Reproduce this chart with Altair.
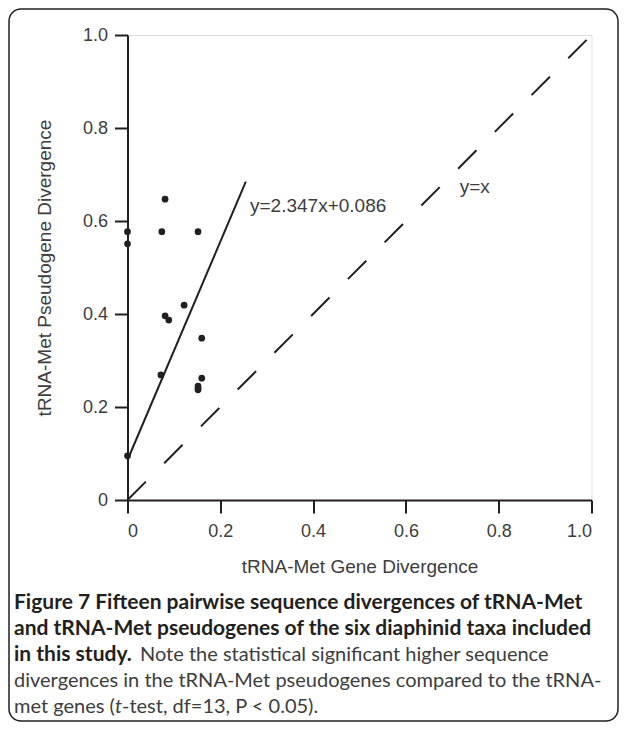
import altair as alt
import pandas as pd

# ---- data ----
gene_div = [0.0, 0.0, 0.0, 0.074, 0.152, 0.081, 0.122, 0.081, 0.089, 0.160, 0.072, 0.160, 0.152, 0.152, 0.152]
pseudo_div = [0.577, 0.551, 0.095, 0.577, 0.577, 0.647, 0.419, 0.396, 0.387, 0.348, 0.269, 0.262, 0.245, 0.237, 0.240]

slope = 2.347
intercept = 0.086
fit_x = [0.0, 0.255]
identity_x = [0.0, 1.0]

tick_values = [0.0, 0.2, 0.4, 0.6, 0.8, 1.0]
x_title = "tRNA-Met Gene Divergence"
y_title = "tRNA-Met Pseudogene Divergence"
fit_label = "y=2.347x+0.086"
identity_label = "y=x"

caption_bold = [
    "Figure 7 Fifteen pairwise sequence divergences of tRNA-Met",
    "and tRNA-Met pseudogenes of the six diaphinid taxa included",
    "in this study.",
]
caption_regular = [
    "Note the statistical significant higher sequence",
    "divergences in the tRNA-Met pseudogenes compared to the tRNA-",
    "met genes (",
    "t",
    "-test, df=13, P < 0.05).",
]

INK = "#231f20"
GREY = "#3d3d3d"
AXFONT = "Liberation Sans"
CAPFONT = "Lato"

pts = pd.DataFrame({"gene": gene_div, "pseudo": pseudo_div})
fit = pd.DataFrame({"gene": fit_x, "pseudo": [slope * v + intercept for v in fit_x]})
ident = pd.DataFrame({"gene": identity_x, "pseudo": identity_x})

xs = alt.Scale(domain=[0, 1], nice=False, zero=False)
ys = alt.Scale(domain=[0, 1], nice=False, zero=False)

lab = "datum.value == 0 ? '0' : format(datum.value, '.1f')"

xaxis = alt.Axis(values=tick_values, labelExpr=lab, tickSize=13, tickWidth=2, domainWidth=2,
                 domainColor=INK, tickColor=INK, labelColor=GREY, labelFont=AXFONT, labelFontSize=18,
                 labelPadding=9, grid=False, title=x_title, titleFont=AXFONT, titleFontSize=19,
                 titleFontWeight="normal", titleColor=GREY, titleX=232, titleY=72,
                 titleBaseline="alphabetic", titleAlign="center")
yaxis = alt.Axis(values=tick_values, labelExpr=lab, tickSize=13, tickWidth=2, domainWidth=2,
                 domainColor=INK, tickColor=INK, labelColor=GREY, labelFont=AXFONT, labelFontSize=18,
                 labelPadding=7, grid=False, title=y_title, titleFont=AXFONT, titleFontSize=19,
                 titleFontWeight="normal", titleColor=GREY, titleX=-77, titleY=232.5, titleAngle=270,
                 titleBaseline="alphabetic", titleAlign="center")

base_x = alt.X("gene:Q", scale=xs, axis=xaxis)
base_y = alt.Y("pseudo:Q", scale=ys, axis=yaxis)

identity_line = alt.Chart(ident).mark_line(color=INK, strokeWidth=2, strokeDash=[26, 26]).encode(
    x=base_x, y=base_y)
fit_line = alt.Chart(fit).mark_line(color=INK, strokeWidth=2).encode(
    x=alt.X("gene:Q", scale=xs), y=alt.Y("pseudo:Q", scale=ys))
points = alt.Chart(pts).mark_circle(size=45, color=INK, opacity=1).encode(
    x=alt.X("gene:Q", scale=xs), y=alt.Y("pseudo:Q", scale=ys))

ann = pd.DataFrame({"gene": [0.264, 0.716], "pseudo": [0.62, 0.66], "label": [fit_label, identity_label]})
labels = alt.Chart(ann).mark_text(align="left", baseline="alphabetic", font=AXFONT, fontSize=19,
                                  color=GREY).encode(
    x=alt.X("gene:Q", scale=xs), y=alt.Y("pseudo:Q", scale=ys), text="label:N")

one = pd.DataFrame({"k": [0]})

frame = alt.Chart(one).mark_rect(fillOpacity=0, stroke=INK, strokeWidth=1.5, cornerRadius=12).encode(
    x=alt.value(-118.5), x2=alt.value(490.5), y=alt.value(-26), y2=alt.value(686))

def cap(text, x, y, weight="normal", style="normal", color=GREY, size=20):
    return alt.Chart(one).mark_text(align="left", baseline="middle", font=CAPFONT, fontSize=size,
                                    fontWeight=weight, fontStyle=style, color=color).encode(
        x=alt.value(x), y=alt.value(y), text=alt.value(text))

caps = [
    cap(caption_bold[0], -113.5, 568, "bold", color=INK, size=21),
    cap(caption_bold[1], -113.5, 594, "bold", color=INK, size=21),
    cap(caption_bold[2], -113.5, 620, "bold", color=INK, size=21),
    cap(caption_regular[0], 12.5, 620),
    cap(caption_regular[1], -113.5, 646),
    cap(caption_regular[2], -113.5, 672),
    cap(caption_regular[3], -12.5, 672, style="italic"),
    cap(caption_regular[4], -5.5, 672),
]

chart = alt.layer(identity_line, fit_line, points, labels, frame, *caps).properties(
    width=464, height=465,
    autosize=alt.AutoSizeParams(type="none"),
    padding={"left": 119.5, "top": 27, "right": 27.5, "bottom": 222},
).configure_view(stroke=INK, strokeWidth=2).configure(background="white")

chart.save("out.html", embed_options={"renderer": "svg", "actions": False})
